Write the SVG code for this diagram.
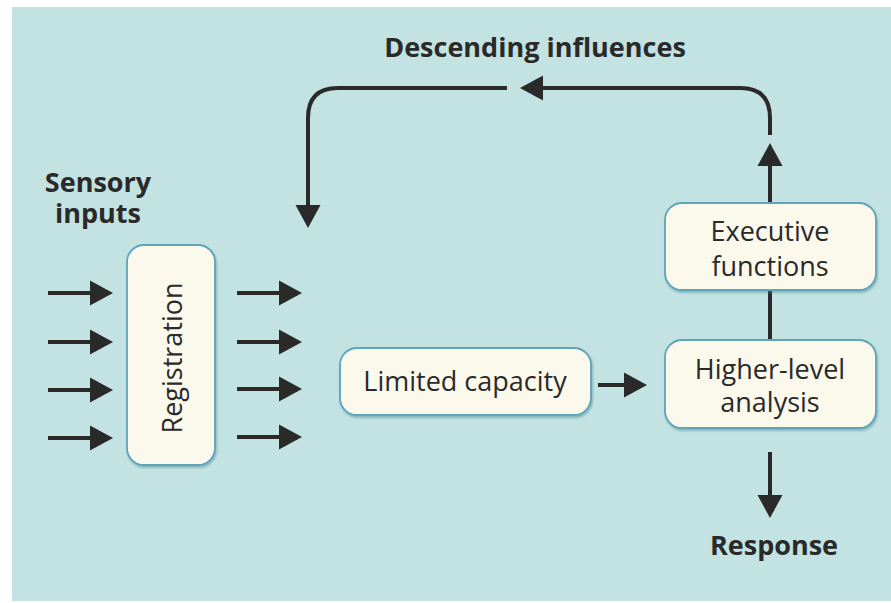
<svg xmlns="http://www.w3.org/2000/svg" width="891" height="603" viewBox="0 0 891 603">
<style>
.bg{fill:#c3e2e2}
.box{fill:#fbf8ec;stroke:#5fa4b8;stroke-width:1.8}
.t{font-family:"Open Sans","Liberation Sans",sans-serif;font-size:27px;fill:#2a2a2a;text-anchor:middle}
.b{font-weight:bold}
.ln{fill:none;stroke:#2a2a2a;stroke-width:4}
.ah{marker-end:url(#ah)}
</style>
<defs>
<marker id="ah" markerUnits="userSpaceOnUse" markerWidth="24" markerHeight="28" viewBox="0 -14 24 28" refX="0" refY="0" orient="auto">
<path d="M0,-12.5 L23,0 L0,12.5 z" fill="#2a2a2a"/>
</marker>
<filter id="sh" x="-10%" y="-10%" width="120%" height="130%">
<feDropShadow dx="1" dy="2" stdDeviation="1.2" flood-color="#3d7f8e" flood-opacity="0.45"/>
</filter>
</defs>
<rect x="0" y="0" width="891" height="603" fill="#ffffff"/>
<rect class="bg" x="12" y="7" width="879" height="594"/>

<g id="connectors">
<line class="ln ah" x1="48" y1="293" x2="90" y2="293"/>
<line class="ln ah" x1="48" y1="342" x2="90" y2="342"/>
<line class="ln ah" x1="48" y1="390" x2="90" y2="390"/>
<line class="ln ah" x1="48" y1="438" x2="90" y2="438"/>
<line class="ln ah" x1="237" y1="293" x2="279" y2="293"/>
<line class="ln ah" x1="237" y1="342" x2="279" y2="342"/>
<line class="ln ah" x1="237" y1="389" x2="279" y2="389"/>
<line class="ln ah" x1="237" y1="437" x2="279" y2="437"/>
<line class="ln ah" x1="598" y1="385" x2="624" y2="385"/>
<line class="ln" x1="770" y1="290" x2="770" y2="340"/>
<line class="ln ah" x1="770" y1="203" x2="770" y2="166"/>
<path class="ln ah" d="M770,135 V118 Q770,88 740,88 H543"/>
<path class="ln ah" d="M507,88 H338 Q308,88 308,118 V205"/>
<line class="ln ah" x1="770" y1="452" x2="770" y2="495"/>
</g>

<g id="descending-label"><text class="t b" x="535" y="57">Descending influences</text></g>
<g id="sensory-inputs"><text class="t b" x="98" y="192">Sensory</text><text class="t b" x="98" y="223">inputs</text></g>

<g id="registration">
<rect class="box" filter="url(#sh)" x="127" y="245" width="88" height="220" rx="17"/>
<text class="t" transform="translate(182,358) rotate(-90)">Registration</text>
</g>

<g id="limited-capacity">
<rect class="box" filter="url(#sh)" x="340" y="348" width="251" height="67" rx="17"/>
<text class="t" x="465" y="391">Limited capacity</text>
</g>

<g id="higher-level-analysis">
<rect class="box" filter="url(#sh)" x="665" y="340" width="211" height="88" rx="17"/>
<text class="t" x="770" y="379">Higher-level</text>
<text class="t" x="770" y="412">analysis</text>
</g>

<g id="executive-functions">
<rect class="box" filter="url(#sh)" x="665" y="203" width="211" height="87" rx="17"/>
<text class="t" x="770" y="241">Executive</text>
<text class="t" x="770" y="276">functions</text>
</g>

<g id="response"><text class="t b" x="774" y="555">Response</text></g>
</svg>
